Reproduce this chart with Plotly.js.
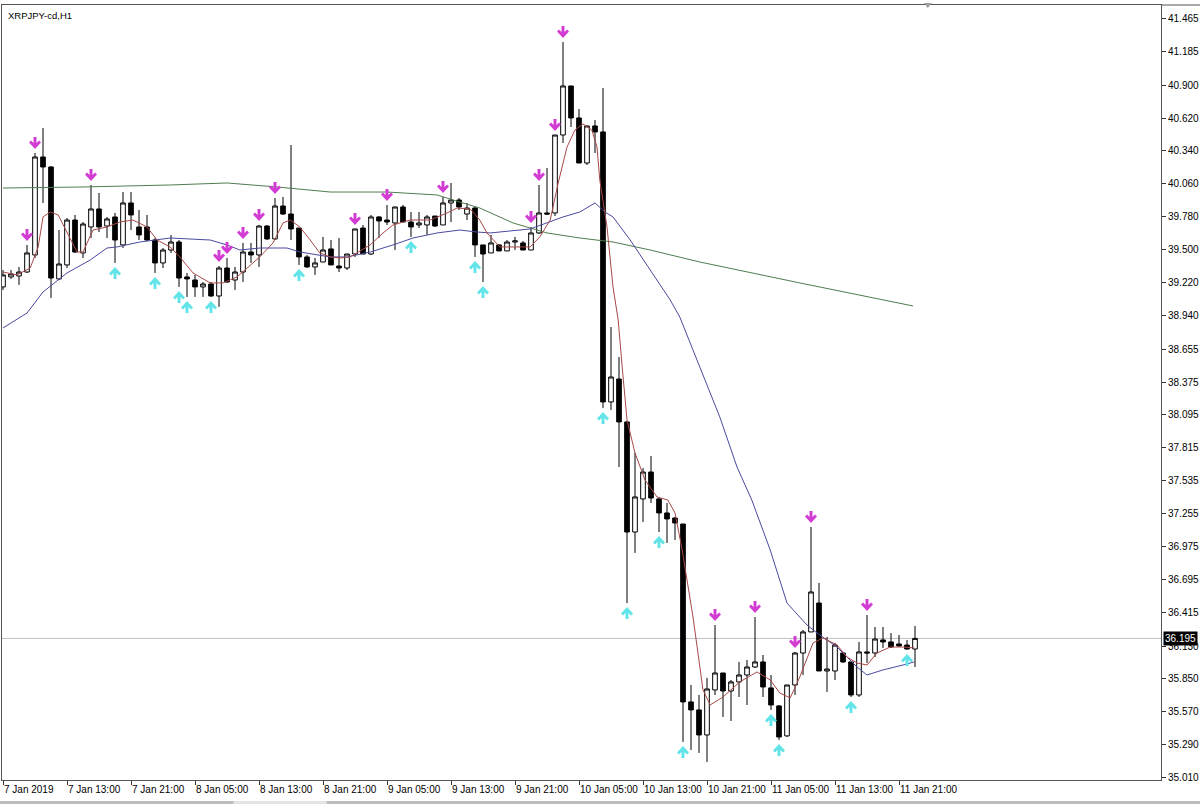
<!DOCTYPE html>
<html><head><meta charset="utf-8">
<script src="https://cdn.plot.ly/plotly-3.0.1.min.js"></script>
<style>html,body{margin:0;padding:0;background:#fff;}#chart{width:1200px;height:804px;}</style>
</head><body><div id="chart"></div>
<script>
const symbolTitle = 'XRPJPY-cd,H1';

const openP = [
39.184,39.269,39.277,39.311,39.456,40.289,40.204,39.252,39.371,39.753,
39.473,39.694,39.847,39.702,39.779,39.541,39.898,39.694,39.694,39.583,
39.388,39.498,39.566,39.269,39.243,39.184,39.209,39.107,39.345,39.243,
39.311,39.481,39.456,39.702,39.592,39.872,39.804,39.685,39.439,39.354,
39.396,39.507,39.362,39.345,39.464,39.685,39.464,39.779,39.753,39.728,
39.864,39.736,39.711,39.711,39.787,39.711,39.898,39.923,39.804,39.855,
39.541,39.473,39.541,39.490,39.566,39.558,39.498,39.643,39.813,39.813,
40.476,40.893,40.621,40.238,40.553,40.502,38.206,38.401,38.036,37.100,
37.381,37.610,37.381,37.262,37.219,37.168,35.655,35.587,35.374,35.757,
35.901,35.748,35.825,35.884,35.952,35.995,35.774,35.621,35.366,35.799,
36.071,36.250,36.496,35.918,35.918,36.071,35.995,35.714,36.080,36.071,
36.182,36.165,36.148,36.139,36.105];

const highP = [
39.328,39.328,39.354,39.541,40.323,40.536,40.212,39.668,39.770,39.796,
39.736,40.051,39.983,39.779,39.813,39.991,39.991,39.838,39.796,39.600,
39.515,39.626,39.583,39.303,39.286,39.226,39.226,39.362,39.430,39.354,
39.558,39.558,39.711,39.711,39.940,39.949,40.391,39.685,39.456,39.430,
39.609,39.583,39.600,39.464,39.677,39.711,39.796,39.787,39.881,39.864,
39.881,39.821,39.821,39.796,39.787,39.949,40.068,39.940,39.898,39.864,
39.541,39.626,39.549,39.583,39.609,39.575,39.694,40.051,40.195,40.476,
41.267,40.893,40.697,40.553,40.604,40.876,38.843,38.588,38.044,37.772,
37.644,37.746,37.389,37.347,37.228,37.168,35.799,35.714,35.859,36.309,
35.901,35.842,35.995,36.012,36.377,36.054,35.884,35.629,35.799,36.080,
36.267,37.143,36.667,36.207,36.156,36.080,35.995,36.165,36.394,36.292,
36.292,36.241,36.224,36.182,36.301];

const lowP = [
39.158,39.252,39.201,39.303,39.430,39.898,39.090,39.243,39.345,39.473,
39.430,39.600,39.651,39.600,39.388,39.515,39.668,39.583,39.575,39.303,
39.345,39.473,39.184,39.099,39.099,39.099,39.099,39.014,39.218,39.158,
39.226,39.388,39.354,39.583,39.583,39.796,39.583,39.371,39.345,39.286,
39.396,39.371,39.311,39.328,39.439,39.464,39.456,39.600,39.711,39.498,
39.736,39.609,39.685,39.626,39.694,39.711,39.736,39.838,39.753,39.439,
39.226,39.473,39.490,39.490,39.498,39.498,39.498,39.634,39.796,39.787,
40.408,40.544,40.238,40.221,40.323,38.155,38.138,37.653,36.496,36.922,
37.185,37.347,37.100,37.007,37.032,35.315,35.246,35.221,35.144,35.714,
35.527,35.493,35.697,35.629,35.944,35.697,35.587,35.332,35.357,35.714,
35.884,36.250,35.918,35.740,35.842,35.986,35.697,35.697,35.986,36.037,
36.114,36.114,36.122,36.097,35.952];

const closeP = [
39.286,39.294,39.311,39.473,40.289,40.204,39.260,39.379,39.753,39.481,
39.719,39.847,39.694,39.762,39.583,39.898,39.796,39.626,39.583,39.388,
39.498,39.566,39.260,39.252,39.184,39.209,39.107,39.345,39.226,39.311,
39.481,39.456,39.702,39.592,39.872,39.804,39.677,39.439,39.354,39.388,
39.498,39.371,39.345,39.464,39.677,39.464,39.779,39.745,39.736,39.864,
39.736,39.694,39.728,39.779,39.702,39.898,39.923,39.864,39.855,39.541,
39.464,39.558,39.490,39.566,39.575,39.498,39.643,39.813,39.804,40.476,
40.893,40.621,40.238,40.553,40.502,38.206,38.418,38.036,37.100,37.398,
37.610,37.389,37.262,37.211,37.177,35.655,35.587,35.374,35.765,35.901,
35.748,35.825,35.884,35.952,35.995,35.782,35.629,35.357,35.799,36.071,
36.250,36.590,35.918,35.935,36.139,35.995,35.714,36.080,36.071,36.190,
36.165,36.122,36.131,36.105,36.195];

// bars that carry a down arrow (above high) / up arrow (below low)
const downArrowBars = [3,4,11,27,28,30,32,34,44,48,55,66,67,69,70,89,94,99,101,108];
const upArrowBars = [14,19,22,23,26,37,51,59,60,75,78,82,85,96,97,106,113];

// moving averages (bar position, price)
const redMaX = [0,1.75,3.4,4.4,5,5.9,6.9,8,9.25,10,11.25,13,14.6,16.25,18,19.25,20.9,22.1,23.75,25.9,
27.5,29.25,30.9,32.1,33.75,35,35.9,37.1,38.4,39.6,40.9,42.1,43.4,45.9,47.5,48.75,50.9,53.4,55.5,56.75,
58.4,59.6,60.5,62.1,63.75,65.9,67.1,68.4,69.4,70.5,71.5,72.5,73.6,74.25,74.6,75.5,76.25,76.9,77.4,78,
79,80.25,81.75,83.1,84,84.9,86.25,87.5,88.4,90,92.1,94.25,95.9,97.1,98.4,99.6,101.25,102.5,104.25,105.5,
106.75,108,109.25,110.9,112.5,113.9];
const redMaY = [39.311,39.286,39.345,39.524,39.779,39.821,39.796,39.643,39.481,39.481,
39.668,39.694,39.736,39.753,39.694,39.583,39.524,39.439,39.303,39.218,
39.218,39.269,39.371,39.439,39.558,39.728,39.753,39.694,39.583,39.473,
39.439,39.430,39.439,39.541,39.643,39.711,39.753,39.753,39.813,39.855,
39.847,39.753,39.643,39.524,39.524,39.524,39.609,39.753,40.068,40.374,
40.519,40.570,40.519,40.374,40.093,39.694,39.184,38.903,38.503,38.053,
37.772,37.542,37.398,37.372,37.262,36.947,36.377,35.757,35.629,35.697,
35.825,35.910,35.842,35.731,35.689,35.867,36.156,36.199,36.139,36.037,
35.986,35.969,36.071,36.122,36.122,36.114];

const blueMaX = [0,3,5,8,10.9,13,14.25,17.1,20.9,25.9,28,29.6,32.1,35.5,37.1,39.25,40.9,43,45.9,48.75,
51.25,54.25,57.1,59.25,60.9,65.9,68,70,72.1,74,75.25,76.25,78.4,80.9,83.4,84.6,87.1,89.6,91.75,93.6,
95.9,98,100.5,101.75,104.25,106.75,108,110,112.5,113.9];
const blueMaY = [38.835,38.962,39.141,39.303,39.413,39.515,39.524,39.566,39.600,39.583,
39.541,39.498,39.515,39.515,39.481,39.456,39.439,39.439,39.481,39.541,
39.600,39.643,39.668,39.651,39.643,39.677,39.728,39.779,39.821,39.898,
39.821,39.779,39.583,39.328,39.073,38.928,38.503,38.078,37.653,37.372,
36.947,36.496,36.309,36.241,36.122,35.952,35.884,35.927,35.969,35.995];

const greenMaX = [0,10,20.9,28,34.25,40.9,48,54.25,57.1,59.6,63.75,68,72.1,76.25,80.9,87.1,99.6,113.75];
const greenMaY = [40.025,40.034,40.051,40.068,40.034,39.991,39.991,39.966,39.906,39.855,39.728,39.643,39.600,39.566,39.498,39.396,39.218,39.022];

const timeTickBars = [0,8,16,24,32,40,48,56,64,72,80,88,96,104,112];
const timeTickLabels = ['7 Jan 2019','7 Jan 13:00','7 Jan 21:00','8 Jan 05:00','8 Jan 13:00','8 Jan 21:00',
'9 Jan 05:00','9 Jan 13:00','9 Jan 21:00','10 Jan 05:00','10 Jan 13:00','10 Jan 21:00','11 Jan 05:00','11 Jan 13:00','11 Jan 21:00'];
const priceTicks = [41.465,41.185,40.900,40.620,40.340,40.060,39.780,39.500,39.220,38.940,38.655,38.375,
38.095,37.815,37.535,37.255,36.975,36.695,36.415,36.130,35.850,35.570,35.290,35.010];
const lastPrice = 36.195;

const barIdx = openP.map((_, i) => i);
const FONT = 'Liberation Sans, Arial, sans-serif';

const traces = [
  {type:'candlestick', x:barIdx, open:openP, high:highP, low:lowP, close:closeP,
   increasing:{line:{color:'#000', width:1}, fillcolor:'#ffffff'},
   decreasing:{line:{color:'#000', width:1}, fillcolor:'#000000'},
   whiskerwidth:0, hoverinfo:'skip', showlegend:false},
  {type:'scatter', mode:'lines', x:greenMaX, y:greenMaY, line:{color:'#4f7d4f', width:1}, hoverinfo:'skip'},
  {type:'scatter', mode:'lines', x:blueMaX, y:blueMaY, line:{color:'#4a4a9e', width:1}, hoverinfo:'skip'},
  {type:'scatter', mode:'lines', x:redMaX, y:redMaY, line:{color:'#a84848', width:1}, hoverinfo:'skip'}
];

const downPath = 'M-1.5,16L1.5,16L1.5,10L4,12.5L6,10.5L0,4L-6,10.5L-4,12.5L-1.5,10Z';
const upPath = 'M-1.5,-16L1.5,-16L1.5,-10L4,-12.5L6,-10.5L0,-4L-6,-10.5L-4,-12.5L-1.5,-10Z';

const shapes = [
  {type:'line', xref:'paper', x0:0, x1:1, yref:'y', y0:lastPrice, y1:lastPrice,
   line:{color:'#c0c0c0', width:1}, layer:'below'},
  {type:'line', xref:'paper', x0:1, x1:1.034, yref:'paper', y0:1, y1:1, line:{color:'#555', width:1}},
  {type:'rect', xref:'paper', yref:'paper', x0:-0.01, x1:0.2, y0:-0.0315, y1:-0.027, fillcolor:'#bdbdbd', line:{width:0}},
  {type:'rect', xref:'paper', yref:'paper', x0:0.2, x1:0.28, y0:-0.0315, y1:-0.027, fillcolor:'#e4e4e4', line:{width:0}},
  {type:'rect', xref:'paper', yref:'paper', x0:0.28, x1:1.04, y0:-0.0315, y1:-0.027, fillcolor:'#bdbdbd', line:{width:0}},
  {type:'path', xref:'x', yref:'paper', xsizemode:'pixel', ysizemode:'pixel', xanchor:115.6, yanchor:1,
   path:'M-4,2L4,2L0,-3Z', fillcolor:'#a0a0a0', line:{width:0}}
];
downArrowBars.forEach(i => shapes.push({type:'path', xref:'x', yref:'y', xsizemode:'pixel', ysizemode:'pixel',
  xanchor:i, yanchor:highP[i], path:downPath, fillcolor:'#d23cd2', line:{width:0}}));
upArrowBars.forEach(i => shapes.push({type:'path', xref:'x', yref:'y', xsizemode:'pixel', ysizemode:'pixel',
  xanchor:i, yanchor:lowP[i], path:upPath, fillcolor:'#62e4e8', line:{width:0}}));

const layout = {
  width:1200, height:804,
  margin:{l:2, r:39, t:5, b:24, pad:0},
  paper_bgcolor:'#ffffff', plot_bgcolor:'#ffffff',
  showlegend:false, hovermode:false, dragmode:false,
  boxgap:0.42, boxgroupgap:0,
  xaxis:{range:[-0.125,144.75], tickmode:'array', tickvals:timeTickBars, ticktext:timeTickLabels,
    tickangle:0, ticks:'outside', ticklen:4, tickcolor:'#333', ticklabelposition:'outside right',
    showline:true, mirror:true, linecolor:'#555', linewidth:1, showgrid:false, zeroline:false,
    rangeslider:{visible:false}, tickfont:{family:FONT, size:10, color:'#000'}, fixedrange:true},
  yaxis:{range:[34.991,41.5815], side:'right', tickmode:'array', tickvals:priceTicks,
    ticktext:priceTicks.map(v => v.toFixed(3)), ticks:'outside', ticklen:4, tickcolor:'#333',
    showline:true, mirror:true, linecolor:'#555', linewidth:1, showgrid:false, zeroline:false,
    tickfont:{family:FONT, size:10, color:'#000'}, fixedrange:true},
  shapes:shapes,
  annotations:[
    {xref:'paper', yref:'paper', x:0, y:1, xanchor:'left', yanchor:'top', xshift:4, yshift:-3,
     text:symbolTitle, showarrow:false, font:{family:FONT, size:9.5, color:'#000'}},
    {xref:'paper', yref:'y', x:1, y:lastPrice, xanchor:'left', yanchor:'middle', xshift:2,
     text:lastPrice.toFixed(3), showarrow:false, bgcolor:'#000', borderpad:1,
     font:{family:FONT, size:10, color:'#fff'}}
  ]
};

Plotly.newPlot('chart', traces, layout, {displayModeBar:false, staticPlot:true});
</script>
</body></html>
